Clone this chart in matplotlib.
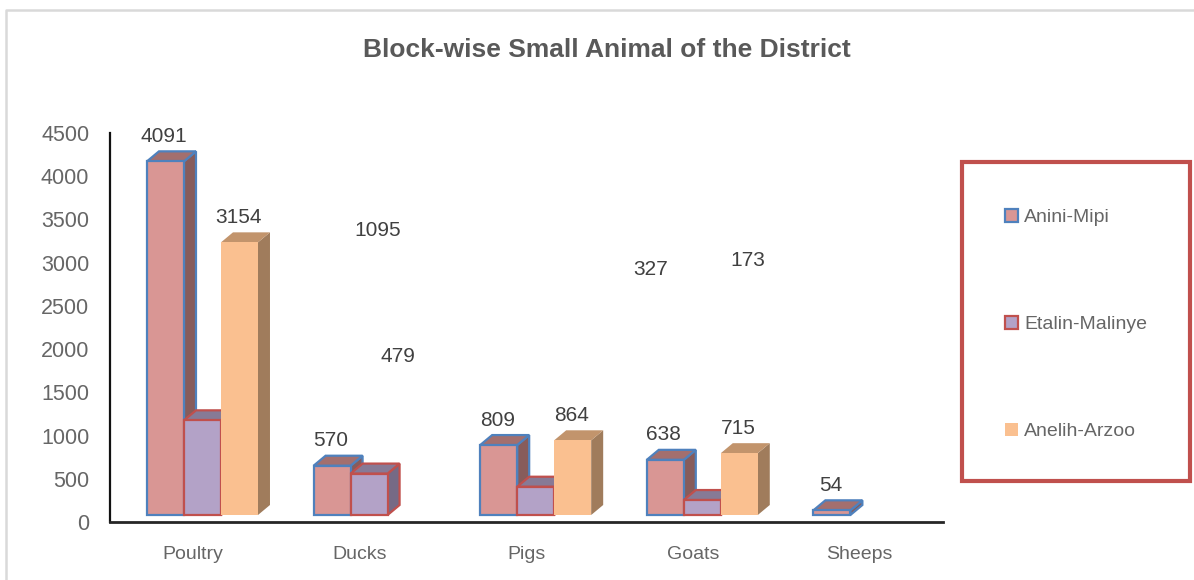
from matplotlib import pyplot as plt
from matplotlib.lines import Line2D
import matplotlib.patches as mpatches
import numpy as np

W, H = 1194, 580

categories = ['Poultry', 'Ducks', 'Pigs', 'Goats', 'Sheeps']
series_names = ['Anini-Mipi', 'Etalin-Malinye', 'Anelih-Arzoo']
anini = [4091, 570, 809, 638, 54]
etalin = [1095, 479, 327, 173, np.nan]
anelih = [3154, np.nan, 864, 715, np.nan]
yticks = [0, 500, 1000, 1500, 2000, 2500, 3000, 3500, 4000, 4500]
title = 'Block-wise Small Animal of the District'

front = ['#D99694', '#B3A2C7', '#FAC090']
top_col = ['#A36F6E', '#877A96', '#C2946C']
side_col = ['#875C5B', '#766A85', '#A07C5C']
edges = ['#4F81BD', '#C0504D', 'none']

# labels that sit away from their bar in the original, pixel centres
moved_labels = {(0, 1): (378, 230), (1, 1): (398, 356), (2, 1): (651, 270), (3, 1): (748, 260)}

TXT = '#666666'
plt.rcParams['font.family'] = ['Liberation Sans', 'DejaVu Sans']


def fx(x):
    return x / W


def fy(y):
    return 1 - y / H


fig = plt.figure(figsize=(W / 100, H / 100), dpi=100, facecolor='white')
# outer chart border, only top and left are in frame
fig.add_artist(Line2D([fx(6), fx(6), 1], [0, fy(10), fy(10)], color='#D9D9D9', lw=1.8, transform=fig.transFigure))

ax = fig.add_axes([fx(110), fy(522), fx(833), fy(133) - fy(522)])
ax.set_xlim(-0.5, 4.5)
ax.set_ylim(0, 4500)
for s in ['top', 'right']:
    ax.spines[s].set_visible(False)
ax.spines['left'].set_color('#111111')
ax.spines['left'].set_linewidth(1.6)
ax.spines['bottom'].set_color('#262626')
ax.spines['bottom'].set_linewidth(2)
ax.set_xticks(range(5), categories)
ax.set_yticks(yticks)
ax.tick_params(length=0)
ax.tick_params(axis='y', labelsize=15.5, labelcolor=TXT, pad=15)
ax.tick_params(axis='x', labelsize=14, labelcolor=TXT, pad=17.5)

bar_w = 37 / 166.6
base = 7 / 0.0864
dx = 12 / 166.6
dy = 10 / 0.0864
start = -0.278

for i, vals in enumerate([anini, etalin, anelih]):
    for c, v in enumerate(vals):
        if np.isnan(v):
            continue
        x0 = c + start + i * bar_w
        x1 = x0 + bar_w
        y1 = base + v
        lw = 1.6 if edges[i] != 'none' else 0
        ec = edges[i]
        side = [(x1, base), (x1 + dx, base + dy), (x1 + dx, y1 + dy), (x1, y1)]
        roof = [(x0, y1), (x0 + dx, y1 + dy), (x1 + dx, y1 + dy), (x1, y1)]
        ax.add_patch(mpatches.Polygon(side, facecolor=side_col[i], edgecolor=ec, lw=lw, zorder=3 + i))
        ax.add_patch(mpatches.Polygon(roof, facecolor=top_col[i], edgecolor=ec, lw=lw, zorder=3 + i))
        ax.bar(x0, v, bar_w, bottom=base, align='edge', color=front[i], edgecolor=ec, linewidth=lw, zorder=3 + i)
        if (c, i) in moved_labels:
            px, py = moved_labels[(c, i)]
            fig.text(fx(px), fy(py), f'{v:.0f}', fontsize=15, color='#404040', ha='center', va='center')
        else:
            ax.annotate(f'{v:.0f}', (x0 + bar_w / 2, y1), xytext=(-1, 18), textcoords='offset points',
                        fontsize=15, color='#404040', ha='center', va='center', annotation_clip=False, zorder=10)

fig.text(fx(607), fy(50), title, fontsize=19, fontweight='bold', color='#595959', ha='center', va='center')

# legend box
fig.add_artist(mpatches.Rectangle((fx(962), fy(481)), fx(228), fy(162) - fy(481), facecolor='white',
                                  edgecolor='#C0504D', lw=3, transform=fig.transFigure, zorder=5))
handles = [mpatches.Patch(facecolor=front[i], edgecolor=edges[i], linewidth=1.6 if i < 2 else 0, label=series_names[i])
           for i in range(3)]
leg = fig.legend(handles=handles, loc='center left', bbox_to_anchor=(fx(1005), fy(324.5)), frameon=False, fontsize=14,
                 labelcolor=TXT, handlelength=0.68, handleheight=0.68, handletextpad=0.3, labelspacing=4.6,
                 borderpad=0, borderaxespad=0)
leg.set_zorder(6)

plt.savefig('out.png', dpi=100)
